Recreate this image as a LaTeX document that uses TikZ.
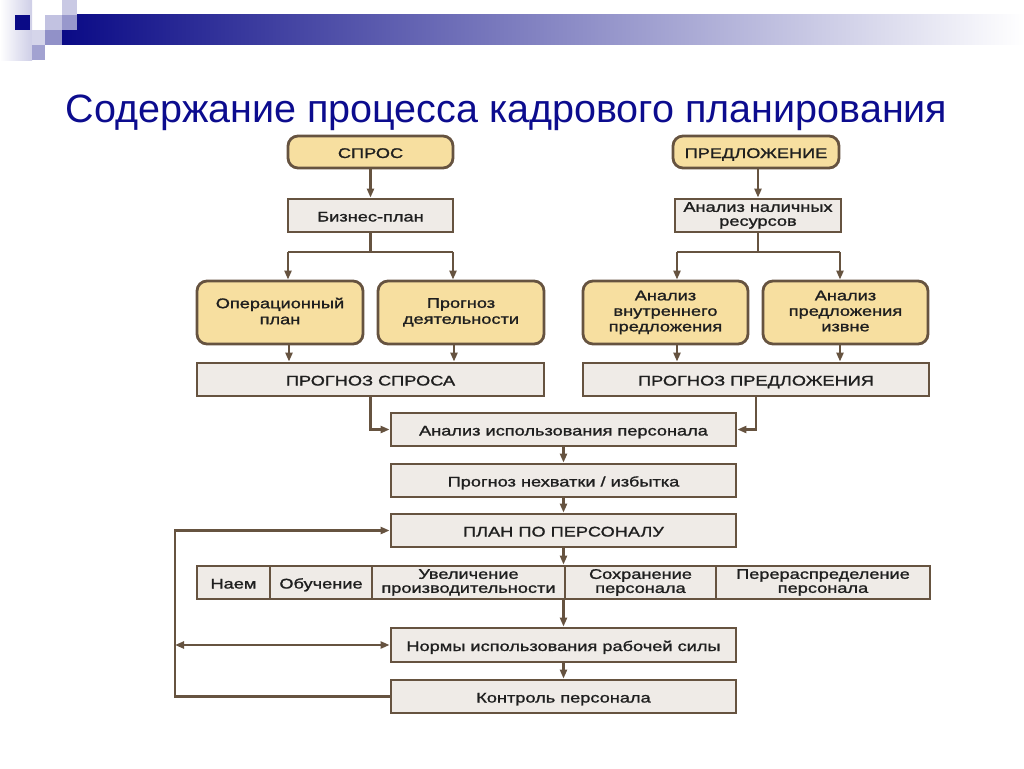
\documentclass[tikz,border=0pt]{standalone}
\usepackage{fontspec}
\setmainfont{Liberation Sans}
\newfontfamily\boxfont[FakeStretch=1.3,FakeBold=1.3]{Liberation Sans}
\usetikzlibrary{arrows.meta}
\definecolor{navy}{HTML}{0A0A86}
\definecolor{brn}{HTML}{665340}
\definecolor{yel}{HTML}{F7DFA0}
\definecolor{gry}{HTML}{EFEBE7}
\definecolor{ttl}{HTML}{0C0C8E}
\tikzset{
  box/.style={draw=brn, line width=2.8pt, inner xsep=1pt, inner ysep=0pt, align=center,
    font=\boxfont\fontsize{14}{16}\selectfont, text=black!88},
  sl/.style={execute at begin node=\rule[-4pt]{0pt}{20pt}},
  mlA/.style={font=\boxfont\fontsize{14}{15.5}\selectfont,
    execute at begin node=\rule{0pt}{23pt}, execute at end node=\rule[-3pt]{0pt}{3pt}},
  mlB/.style={font=\boxfont\fontsize{14}{16}\selectfont,
    execute at begin node=\rule{0pt}{18pt}, execute at end node=\rule[-3pt]{0pt}{3pt}},
  mlC/.style={font=\boxfont\fontsize{14}{14}\selectfont,
    execute at begin node=\rule{0pt}{16pt}, execute at end node=\rule[-3pt]{0pt}{3pt}},
  ybox/.style={box, fill=yel, rounded corners=10pt},
  gbox/.style={box, fill=gry},
  tip/.tip={Triangle[length=9pt,width=7pt]},
  arr/.style={draw=brn, line width=2.4pt, -tip},
  ln/.style={draw=brn, line width=2.4pt},
}
\begin{document}
\begin{tikzpicture}[x=1pt,y=-1pt]
\useasboundingbox (0,0) rectangle (1024,768);
% header decoration
\shade[left color=white, right color=white!80!navy] (0,0) rectangle (32,60);
\shade[left color=navy, right color=white] (62,15) rectangle (1024,45);
\fill[navy] (15,15) rectangle (30,30);
\fill[navy!25] (45,15) rectangle (62,30);
\fill[navy!22] (62,0) rectangle (77,15);
\fill[navy!42] (62,15) rectangle (77,30);
\fill[navy!17] (32,30) rectangle (45,45);
\fill[navy!45] (45,30) rectangle (62,45);
\fill[navy!38] (32,45) rectangle (45,60);
% title
\node[text=ttl, font=\fontsize{39.5}{44}\selectfont, anchor=base] (title) at (506.5,122) {Содержание процесса кадрового планирования};
% demand side
\node[ybox, sl, minimum width=165pt, minimum height=32pt] (spros) at (370.5,152) {СПРОС};
\node[gbox, sl, minimum width=165pt, minimum height=33pt] (biz) at (370.5,215.5) {Бизнес-план};
\node[ybox, mlB, minimum width=166pt, minimum height=63pt] (oper) at (280,312.5) {Операционный\\план};
\node[ybox, mlB, minimum width=166pt, minimum height=63pt] (deyat) at (461,312.5) {Прогноз\\деятельности};
\node[gbox, sl, minimum width=347pt, minimum height=33pt] (prspros) at (370.5,379.5) {ПРОГНОЗ СПРОСА};
% supply side
\node[ybox, sl, minimum width=166pt, minimum height=32pt] (pred) at (756,152) {ПРЕДЛОЖЕНИЕ};
\node[gbox, mlC, minimum width=166pt, minimum height=33pt] (anres) at (758,215.5) {Анализ наличных\\ресурсов};
\node[ybox, mlA, minimum width=165pt, minimum height=63pt] (anvn) at (665.5,312.5) {Анализ\\внутреннего\\предложения};
\node[ybox, mlA, minimum width=165pt, minimum height=63pt] (anizv) at (845.5,312.5) {Анализ\\предложения\\извне};
\node[gbox, sl, minimum width=346pt, minimum height=33pt] (prpred) at (756,379.5) {ПРОГНОЗ ПРЕДЛОЖЕНИЯ};
% central column
\node[gbox, sl, minimum width=345pt, minimum height=33pt] (anisp) at (563.5,429.5) {Анализ использования персонала};
\node[gbox, sl, minimum width=345pt, minimum height=33pt] (prnex) at (563.5,480.5) {Прогноз нехватки / избытка};
\node[gbox, sl, minimum width=345pt, minimum height=33pt] (plan) at (563.5,530.5) {ПЛАН ПО ПЕРСОНАЛУ};
% row of measures
\node[gbox, sl, minimum width=73pt, minimum height=33pt] (c1) at (233.5,582.5) {Наем};
\node[gbox, sl, minimum width=102pt, minimum height=33pt] (c2) at (321,582.5) {Обучение};
\node[gbox, mlC, minimum width=193pt, minimum height=33pt] (c3) at (468.5,582.5) {Увеличение\\производительности};
\node[gbox, mlC, minimum width=151pt, minimum height=33pt] (c4) at (640.5,582.5) {Сохранение\\персонала};
\node[gbox, mlC, minimum width=214pt, minimum height=33pt] (c5) at (823,582.5) {Перераспределение\\персонала};
\node[gbox, sl, minimum width=345pt, minimum height=34pt] (norm) at (563.5,645) {Нормы использования рабочей силы};
\node[gbox, sl, minimum width=345pt, minimum height=33pt] (kontr) at (563.5,696.5) {Контроль персонала};
\coordinate (lx) at (175,0);
\coordinate (bl) at (0,252);
% connectors demand
\draw[arr] (spros.south) -- (biz.north);
\draw[ln] (biz.south) -- (biz.south |- bl);
\draw[ln] (288,252) -- (453,252);
\draw[arr] (288,252) -- (288,252 |- oper.north);
\draw[arr] (453,252) -- (453,252 |- deyat.north);
\draw[arr] (oper.south -| 289,0) -- (289,0 |- prspros.north);
\draw[arr] (deyat.south -| 454,0) -- (454,0 |- prspros.north);
% connectors supply
\draw[arr] (pred.south -| anres.north) -- (anres.north);
\draw[ln] (anres.south) -- (anres.south |- bl);
\draw[ln] (677,252) -- (840,252);
\draw[arr] (677,252) -- (677,252 |- anvn.north);
\draw[arr] (840,252) -- (840,252 |- anizv.north);
\draw[arr] (anvn.south -| 677,0) -- (677,0 |- prpred.north);
\draw[arr] (anizv.south -| 840,0) -- (840,0 |- prpred.north);
% to central column
\draw[arr] (prspros.south) |- (anisp.west);
\draw[arr] (prpred.south) |- (anisp.east);
\draw[arr] (anisp.south) -- (prnex.north);
\draw[arr] (prnex.south) -- (plan.north);
\draw[arr] (plan.south) -- (plan.south |- c3.north);
\draw[arr] (c3.south -| norm.north) -- (norm.north);
\draw[arr] (norm.south) -- (kontr.north);
% feedback loop
\draw[arr] (kontr.west) -- (kontr.west -| lx) |- (plan.west);
\draw[ln, tip-tip] (norm.west -| lx) -- (norm.west);
\end{tikzpicture}
\end{document}
